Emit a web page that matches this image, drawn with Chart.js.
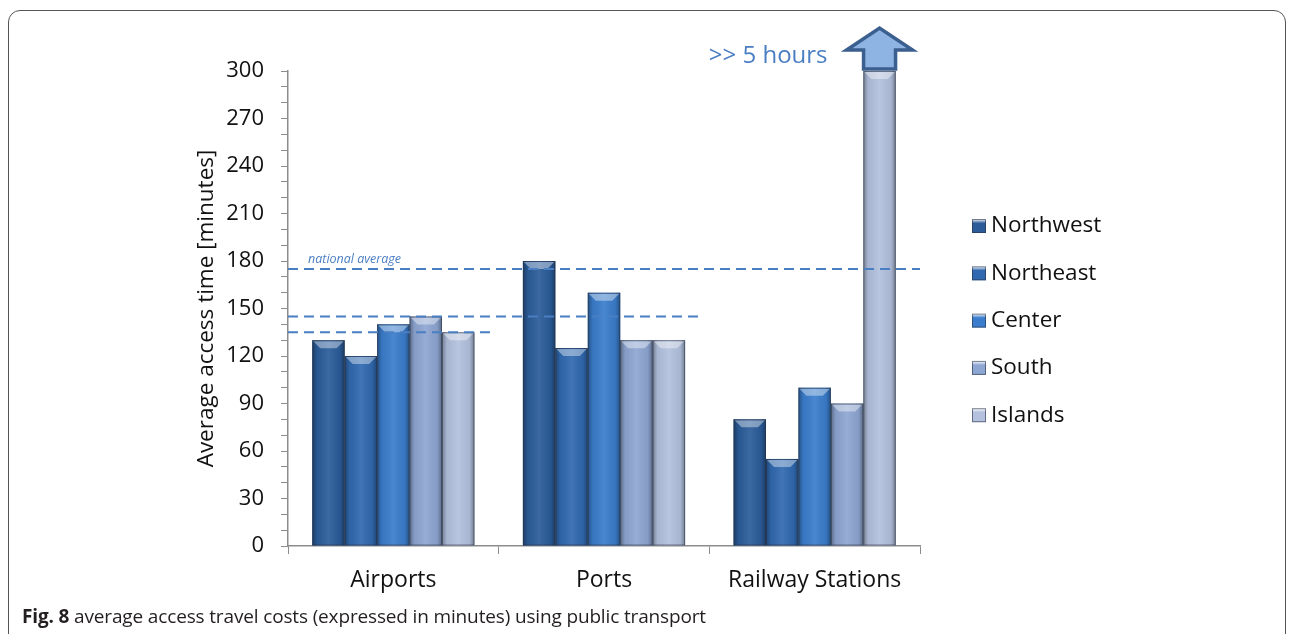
<!DOCTYPE html>
<html>
<head>
<meta charset="utf-8">
<script src="https://cdn.jsdelivr.net/npm/chart.js@4"></script>
<style>
  html, body { margin: 0; padding: 0; background: #fff; }
  #wrap { position: relative; width: 1292px; height: 634px; overflow: hidden; }
  #frame { position: absolute; left: 8px; top: 10px; width: 1278px; height: 660px;
           border: 1.5px solid #555; border-radius: 12px; box-sizing: border-box; }
  canvas { position: absolute; left: 0; top: 0; }
  #caption { position: absolute; left: 22px; top: 603px; font-family: "Open Sans", sans-serif;
             font-size: 19px; color: #231f20; letter-spacing: -0.15px; }
  #caption b { font-weight: 700; }
</style>
</head>
<body>
<div id="wrap">
  <div id="frame"></div>
  <canvas id="accessChart" width="1292" height="634"></canvas>
  <div id="caption"><b>Fig. 8</b> average access travel costs (expressed in minutes) using public transport</div>
</div>
<script>
const categories = ["Airports", "Ports", "Railway Stations"];
const regions = ["Northwest", "Northeast", "Center", "South", "Islands"];
const northwest = [130, 180, 80];
const northeast = [120, 125, 55];
const center = [140, 160, 100];
const south = [145, 130, 90];
const islands = [135, 130, 300];
const regionColors = ["#2b5c99", "#3069b0", "#3a7dcc", "#8ea6d2", "#b3c1de"];
const nationalAverage = 175;
const categoryAverages = [135, 145];   // airports, ports
const yTicks = [0, 30, 60, 90, 120, 150, 180, 210, 240, 270, 300];
const overflowLabel = ">> 5 hours";

const seriesValues = [northwest, northeast, center, south, islands];
const blue = "#4a7ec2";
const chartFont = "'Open Sans', sans-serif";

// shading + top bevel on each bar
const bevelPlugin = {
  id: "bevel",
  afterDatasetsDraw(chart) {
    const ctx = chart.ctx;
    ctx.save();
    chart.data.datasets.forEach((ds, i) => {
      chart.getDatasetMeta(i).data.forEach(bar => {
        const { x, y, base, width } = bar.getProps(["x", "y", "base", "width"], true);
        const l = x - width / 2, r = x + width / 2;
        const g = ctx.createLinearGradient(l, 0, r, 0);
        g.addColorStop(0, "rgba(0,0,0,0.35)");
        g.addColorStop(0.15, "rgba(0,0,0,0.06)");
        g.addColorStop(0.5, "rgba(255,255,255,0.08)");
        g.addColorStop(0.85, "rgba(0,0,0,0.06)");
        g.addColorStop(1, "rgba(0,0,0,0.35)");
        ctx.fillStyle = g;
        ctx.fillRect(l, y, width, base - y);
        const d = 8;
        ctx.beginPath();
        ctx.moveTo(l + 1, y + 1);
        ctx.lineTo(r - 1, y + 1);
        ctx.lineTo(r - d, y + d);
        ctx.lineTo(l + d, y + d);
        ctx.closePath();
        ctx.fillStyle = "rgba(255,255,255,0.4)";
        ctx.fill();
        ctx.strokeStyle = "rgba(40,50,70,0.55)";
        ctx.lineWidth = 1;
        ctx.strokeRect(l + 0.5, y + 0.5, width - 1, base - y - 1);
      });
    });
    ctx.restore();
  }
};

// dashed average lines, overflow arrow and legend
const annotatePlugin = {
  id: "annotate",
  afterDraw(chart) {
    const ctx = chart.ctx;
    const xs = chart.scales.x, ys = chart.scales.y, area = chart.chartArea;
    const catW = (area.right - area.left) / categories.length;
    ctx.save();
    ctx.strokeStyle = blue;
    ctx.lineWidth = 2;
    ctx.setLineDash([10, 6]);
    let py = ys.getPixelForValue(nationalAverage);
    ctx.beginPath(); ctx.moveTo(area.left, py); ctx.lineTo(area.right, py); ctx.stroke();
    categoryAverages.forEach((v, i) => {
      const end = xs.getPixelForValue(i) + catW / 2 - 6;
      const yy = ys.getPixelForValue(v);
      ctx.beginPath(); ctx.moveTo(area.left, yy); ctx.lineTo(end, yy); ctx.stroke();
    });
    ctx.setLineDash([]);
    ctx.fillStyle = blue;
    ctx.font = "italic 12.5px " + chartFont;
    ctx.textBaseline = "alphabetic";
    ctx.fillText("national average", area.left + 20, py - 6);

    // arrow above the overflowing bar
    const bar = chart.getDatasetMeta(4).data[2];
    const ax = bar.x, ab = bar.y - 2;
    ctx.beginPath();
    ctx.moveTo(ax - 16, ab);
    ctx.lineTo(ax - 16, ab - 19);
    ctx.lineTo(ax - 33, ab - 19);
    ctx.lineTo(ax, ab - 41);
    ctx.lineTo(ax + 33, ab - 19);
    ctx.lineTo(ax + 16, ab - 19);
    ctx.lineTo(ax + 16, ab);
    ctx.closePath();
    ctx.fillStyle = "#8db4e2";
    ctx.fill();
    ctx.strokeStyle = "#3b5f8f";
    ctx.lineWidth = 3.5;
    ctx.lineJoin = "miter";
    ctx.stroke();
    ctx.fillStyle = blue;
    ctx.font = "24px " + chartFont;
    ctx.textAlign = "right";
    ctx.fillText(overflowLabel, ax - 52, ab - 6);

    // legend
    ctx.textAlign = "left";
    ctx.textBaseline = "middle";
    ctx.font = "22.5px " + chartFont;
    const lx = area.right + 52;
    regions.forEach((name, i) => {
      const cy = 226 + i * 47.3;
      const g = ctx.createLinearGradient(0, cy - 7, 0, cy + 7);
      g.addColorStop(0, "#ffffff");
      g.addColorStop(0.3, regionColors[i]);
      g.addColorStop(1, regionColors[i]);
      ctx.fillStyle = g;
      ctx.fillRect(lx, cy - 7, 14, 14);
      ctx.strokeStyle = "rgba(40,50,70,0.6)";
      ctx.lineWidth = 1;
      ctx.strokeRect(lx + 0.5, cy - 6.5, 13, 13);
      ctx.fillStyle = "#111";
      ctx.fillText(name, lx + 19, cy);
    });
    ctx.restore();
  }
};

new Chart(document.getElementById("accessChart"), {
  type: "bar",
  data: {
    labels: categories,
    datasets: regions.map((name, i) => ({
      label: name,
      data: seriesValues[i],
      backgroundColor: regionColors[i],
      borderWidth: 0,
      barPercentage: 1,
      categoryPercentage: 0.77
    }))
  },
  options: {
    responsive: false,
    animation: false,
    layout: { padding: { left: 191, top: 71, right: 372, bottom: 0 } },
    plugins: { legend: { display: false }, tooltip: { enabled: false } },
    scales: {
      x: {
        afterFit(scale) { scale.height = 88; },
        grid: { offset: true, drawOnChartArea: false, tickLength: 8, color: "#8c8c8c" },
        border: { color: "#8c8c8c", width: 1.5 },
        ticks: { color: "#111", padding: 13, font: { family: chartFont, size: 23 } }
      },
      y: {
        min: 0, max: 300,
        afterFit(scale) { scale.width = 97; },
        afterBuildTicks(scale) {
          const out = [];
          for (let v = 0; v <= 300; v += 10) out.push({ value: v });
          scale.ticks = out;
        },
        grid: { drawOnChartArea: false, tickLength: 7, color: "#8c8c8c" },
        border: { color: "#8c8c8c", width: 1.5 },
        ticks: {
          color: "#111", padding: 17, autoSkip: false, font: { family: chartFont, size: 22 },
          callback: v => yTicks.includes(v) ? v : ""
        },
        title: {
          display: true, text: "Average access time [minutes]", color: "#111",
          font: { family: chartFont, size: 22.5 }, padding: { top: 2, bottom: 0 }
        }
      }
    }
  },
  plugins: [bevelPlugin, annotatePlugin]
});
</script>
</body>
</html>
